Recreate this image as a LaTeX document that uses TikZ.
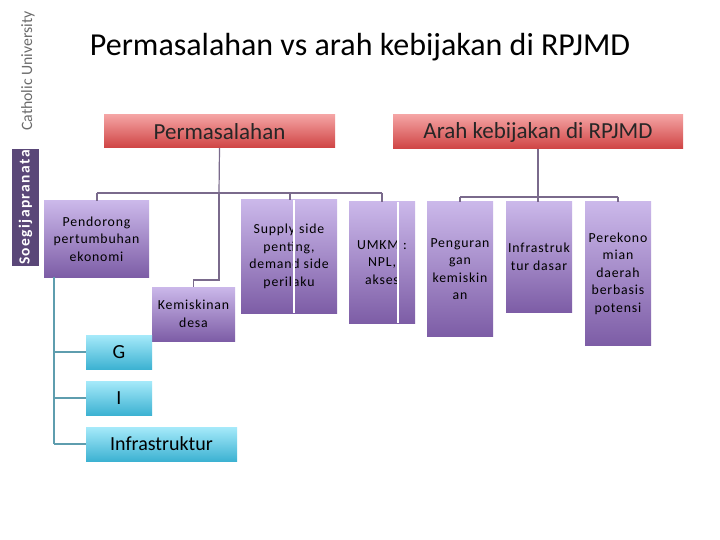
\documentclass[tikz,border=0pt]{standalone}
\usepackage{fontspec}
\setmainfont{Carlito}
\newfontfamily\spaced{Carlito}[LetterSpace=6]
\usetikzlibrary{calc}
\definecolor{redtop}{HTML}{F4A3A3}
\definecolor{redbot}{HTML}{CF4343}
\definecolor{purtop}{HTML}{CBB8EA}
\definecolor{purbot}{HTML}{7D5DA6}
\definecolor{cyantop}{HTML}{A6EAFA}
\definecolor{cyanbot}{HTML}{3DB2D2}
\definecolor{linepur}{HTML}{7A6A8C}
\definecolor{lineteal}{HTML}{5E9DAE}
\definecolor{sidepur}{HTML}{5A4778}
\tikzset{
  header/.style={top color=redtop, bottom color=redbot, inner sep=0pt, align=center,
    font=\fontsize{23}{26}\selectfont, text=black!85},
  purbox/.style={top color=purtop, bottom color=purbot, inner sep=0pt, align=center,
    font=\spaced\fontsize{13.8}{17.5}\selectfont},
  cyanbox/.style={top color=cyantop, bottom color=cyanbot, inner sep=0pt, align=center,
    font=\fontsize{20}{22}\selectfont},
  conn/.style={draw=linepur, line width=1.2pt},
  tealconn/.style={draw=lineteal, line width=1.2pt},
  whiteline/.style={draw=white, line width=1.5pt}
}
\newcommand\kk{\kern1.4pt}
\begin{document}
\begin{tikzpicture}[x=1pt,y=-1pt]
\useasboundingbox (0,0) rectangle (720,540);
\fill[white] (0,0) rectangle (720,540);
% side labels
\node[rotate=90, text=gray!85!black, font=\fontsize{15.8}{18}\selectfont] (cath) at (28,71) {Catholic University};
\node[fill=sidepur, minimum width=27pt, minimum height=117pt, inner sep=0pt] (soegbox) at (25.5,207.5) {};
\node[rotate=90, text=white, font=\bfseries\fontsize{15.5}{17}\selectfont, inner sep=0pt] (soeg) at (soegbox.center) {S\kk o\kk e\kk g\kk i\kk j\kk a\kk p\kk r\kk a\kk n\kk a\kk t\kk a};
% title
\node[font=\fontsize{32}{36}\selectfont] (title) at (360,47) {Permasalahan vs arah kebijakan di RPJMD};
% headers
\node[header, minimum width=231pt, minimum height=33pt] (perm) at (219.5,131.5) {Permasalahan};
\node[header, minimum width=290pt, minimum height=34pt] (arah) at (538,132) {Arah kebijakan di RPJMD};
% purple boxes
\node[purbox, minimum width=105pt, minimum height=76pt] (pend) at (96.5,239) {Pendorong\\pertumbuhan\\ekonomi};
\node[purbox, minimum width=96pt, minimum height=113pt] (supp) at (289,256.5) {Supply side\\penting,\\demand side\\perilaku};
\node[purbox, minimum width=83pt, minimum height=54pt] (kemis) at (193.5,314) {Kemiskinan\\desa};
\node[purbox, minimum width=66pt, minimum height=121pt] (umkm) at (382,262.5) {UMKM :\\NPL,\\akses};
\node[purbox, minimum width=66pt, minimum height=134pt] (peng) at (460,269) {Penguran\\gan\\kemiskin\\an};
\node[purbox, minimum width=66pt, minimum height=110pt] (infd) at (539,257) {Infrastruk\\tur dasar};
\node[purbox, minimum width=66pt, minimum height=143pt] (perek) at (618,273.5) {Perekono\\mian\\daerah\\berbasis\\potensi};
% cyan boxes
\node[cyanbox, minimum width=66pt, minimum height=34pt] (g) at (119,352) {G};
\node[cyanbox, minimum width=66pt, minimum height=34pt] (i) at (119,398) {I};
\node[cyanbox, minimum width=151pt, minimum height=34pt] (infra) at (161.5,444) {Infrastruktur};
% white artefact lines
\draw[whiteline] (supp.north -| 294,0) -- (supp.south -| 294,0);
\draw[whiteline] (umkm.north -| 398,0) -- (umkm.south -| 398,0);
% connectors left tree
\coordinate (busL) at (97,193);
\coordinate (busR) at (382,193);
\coordinate (pk) at (219,193);
\draw[conn] (perm.south) -- (pk);
\draw[conn] (busL) -- (busR);
\draw[conn] (busL) -- (pend.north -| busL);
\draw[conn] (pk -| 290,0) -- (supp.north -| 290,0);
\draw[conn] (busR) -- (umkm.north);
\draw[conn] (pk) -- (219,280) -| (kemis.north);
% left teal
\coordinate (tl) at (54,277);
\draw[tealconn] (tl) -- (54,444);
\draw[tealconn] (g.west -| tl) -- (g.west);
\draw[tealconn] (i.west -| tl) -- (i.west);
\draw[tealconn] (infra.west -| tl) -- (infra.west);
% right tree
\coordinate (ak) at (538,197);
\draw[conn] (arah.south -| ak) -- (ak);
\draw[conn] (peng.north |- ak) -- (perek.north |- ak);
\draw[conn] (peng.north |- ak) -- (peng.north);
\draw[conn] (ak) -- (infd.north -| ak);
\draw[conn] (perek.north |- ak) -- (perek.north);
\end{tikzpicture}
\end{document}
